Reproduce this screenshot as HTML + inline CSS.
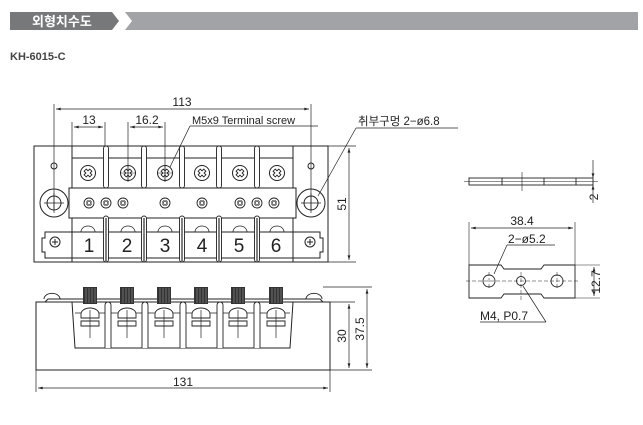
<!DOCTYPE html>
<html><head><meta charset="utf-8"><style>
html,body{margin:0;padding:0;background:#fff;}
svg{display:block;}
text{font-family:"Liberation Sans","Noto Sans CJK KR",sans-serif;fill:#222;}
</style></head><body>
<svg width="643" height="425" viewBox="0 0 643 425" xmlns="http://www.w3.org/2000/svg">
<defs>
<marker id="a" viewBox="0 0 10 6" refX="10" refY="3" markerWidth="8" markerHeight="4" orient="auto-start-reverse"><path d="M0,0 L10,3 L0,6 z" fill="#222"/></marker>
<g id="bigScrew"><circle r="7.5" fill="#fff" stroke="#222" stroke-width="1"/><path d="M-4,-1.5 h2.5 v-2.5 h3 v2.5 h2.5 v3 h-2.5 v2.5 h-3 v-2.5 h-2.5z" fill="none" stroke="#222" stroke-width="0.9" transform="rotate(45)"/></g>
<g id="smScrew"><circle r="5" fill="#fff" stroke="#222" stroke-width="0.9"/><path d="M-2.5,-1 h1.5 v-1.5 h2 v1.5 h1.5 v2 h-1.5 v1.5 h-2 v-1.5 h-1.5z" fill="none" stroke="#222" stroke-width="0.8" transform="rotate(45)"/></g>
<g id="sep"><rect x="-2.5" y="146" width="5" height="42" rx="2.5" fill="#fff" stroke="#222" stroke-width="0.9"/><rect x="-2.5" y="216" width="5" height="46" rx="2.5" fill="#fff" stroke="#222" stroke-width="0.9"/><line x1="0" y1="218" x2="0" y2="262" stroke="#555" stroke-width="1.5"/></g>
<g id="pillar"><rect x="-7" y="287" width="14" height="17" fill="#333"/><path d="M-4,288v15M-1,288v15M2,288v15M5,288v15" stroke="#888" stroke-width="0.7"/><path d="M-9,314 a9,6 0 0 1 18,0 v4 h-18z M-9,321 h18 v5 h-18z" fill="#fff" stroke="#222" stroke-width="0.9"/><path d="M0,310 v28" stroke="#222" stroke-width="0.7"/></g>
<g id="slot"><path d="M-3,348 V305 a3,3 0 0 1 6,0 V348" fill="#fff" stroke="#222" stroke-width="0.9"/></g>
</defs>

<!-- header -->
<polygon points="10,12 112,12 119,21 112,30 10,30" fill="#77787a"/>
<polygon points="125,12 638,12 638,30 125,30 132,21" fill="#a2a3a6"/>
<text x="32" y="26" font-size="13" font-weight="bold" style="fill:#fff">외형치수도</text>
<text x="10" y="60" font-size="11" font-weight="bold" style="fill:#444">KH-6015-C</text>

<g fill="none" stroke="#222" stroke-width="1">
<rect x="34" y="146" width="294" height="116"/>
<line x1="72" y1="158" x2="293" y2="158"/>
<line x1="72" y1="146" x2="72" y2="262"/><line x1="293" y1="146" x2="293" y2="262"/>
<rect x="69" y="188" width="227" height="30" fill="#fff"/>
<line x1="72" y1="232" x2="293" y2="232"/><line x1="72" y1="258" x2="293" y2="258"/>
<path d="M72,232 H45 v6 h-3 v14 h3 v6 H72"/><path d="M293,232 H320 v6 h3 v14 h-3 v6 H293"/>
<circle cx="54" cy="203" r="14" fill="#fff"/><circle cx="54" cy="203" r="7"/><path d="M44,203h20M54,193v20" stroke-width="0.7"/>
<circle cx="311" cy="203" r="14" fill="#fff"/><circle cx="311" cy="203" r="7"/><path d="M301,203h20M311,193v20" stroke-width="0.7"/>
<circle cx="54" cy="166" r="3"/><circle cx="311" cy="166" r="3"/>
</g>
<use href="#sep" x="106"/><use href="#sep" x="144"/><use href="#sep" x="182"/><use href="#sep" x="219"/><use href="#sep" x="257"/>
<g>
<use href="#bigScrew" x="88" y="173"/><use href="#bigScrew" x="128" y="173"/><use href="#bigScrew" x="165" y="173"/><use href="#bigScrew" x="202" y="173"/><use href="#bigScrew" x="240" y="173"/><use href="#bigScrew" x="277" y="173"/>
<use href="#smScrew" x="89" y="203"/><use href="#smScrew" x="106" y="203"/><use href="#smScrew" x="123" y="203"/><use href="#smScrew" x="165" y="203"/><use href="#smScrew" x="202" y="203"/><use href="#smScrew" x="240" y="203"/><use href="#smScrew" x="257" y="203"/><use href="#smScrew" x="274" y="203"/>
<circle cx="55" cy="242" r="5" fill="#fff" stroke="#222"/><path d="M52,242h6M55,239v6" stroke="#222"/>
<circle cx="310" cy="242" r="5" fill="#fff" stroke="#222"/><path d="M307,242h6M310,239v6" stroke="#222"/>
</g>
<g fill="none" stroke="#222" stroke-width="0.8">
<path d="M81,232 a7,6 0 0 1 14,0 M121,232 a7,6 0 0 1 14,0 M158,232 a7,6 0 0 1 14,0 M195,232 a7,6 0 0 1 14,0 M233,232 a7,6 0 0 1 14,0 M270,232 a7,6 0 0 1 14,0"/>
<path d="M128,165v16M120,173h16M165,165v16M157,173h16" stroke-width="0.6"/>
</g>
<g font-size="19" text-anchor="middle"><text x="89" y="252">1</text><text x="127" y="252">2</text><text x="165" y="252">3</text><text x="202" y="252">4</text><text x="239" y="252">5</text><text x="276" y="252">6</text></g>

<g stroke="#222" stroke-width="0.7" fill="none">
<line x1="54" y1="104" x2="54" y2="210"/><line x1="311" y1="104" x2="311" y2="210"/>
<line x1="56" y1="109" x2="309" y2="109" marker-start="url(#a)" marker-end="url(#a)"/>
<line x1="72" y1="122" x2="72" y2="158"/><line x1="105" y1="122" x2="105" y2="146"/>
<line x1="74" y1="127" x2="103" y2="127" marker-start="url(#a)" marker-end="url(#a)"/>
<line x1="128" y1="122" x2="128" y2="182"/><line x1="165" y1="122" x2="165" y2="182"/>
<line x1="130" y1="127" x2="163" y2="127" marker-start="url(#a)" marker-end="url(#a)"/>
<line x1="190" y1="126" x2="318" y2="126"/><line x1="190" y1="126" x2="170" y2="167"/>
<line x1="356" y1="128" x2="458" y2="128"/><line x1="356" y1="128" x2="318" y2="196"/>
<line x1="328" y1="146" x2="356" y2="146"/><line x1="328" y1="262" x2="356" y2="262"/>
<line x1="349" y1="148" x2="349" y2="260" marker-start="url(#a)" marker-end="url(#a)"/>
</g>
<g font-size="12"><text x="182" y="106" text-anchor="middle">113</text><text x="89" y="124" text-anchor="middle">13</text><text x="147" y="124" text-anchor="middle">16.2</text>
<text x="192" y="124" font-size="11">M5x9 Terminal screw</text>
<text x="358" y="125" font-size="11.5">취부구멍 2−ø6.8</text>
<text transform="translate(346,204) rotate(-90)" text-anchor="middle">51</text></g>

<g fill="none" stroke="#222" stroke-width="1">
<rect x="36" y="302" width="294" height="68"/>
<path d="M45,302 l3,-3 H320 l3,3"/>
<path d="M44,299 a7,5 0 0 1 16,0 M306,299 a7,5 0 0 1 16,0" stroke-width="0.9"/>
<path d="M72,302 l3,46 H290 l3,-46"/>
<line x1="75" y1="313" x2="290" y2="313" stroke-width="0.7"/>
</g>
<use href="#pillar" x="90"/><use href="#pillar" x="127"/><use href="#pillar" x="164"/><use href="#pillar" x="201"/><use href="#pillar" x="238"/><use href="#pillar" x="276"/>
<use href="#slot" x="108"/><use href="#slot" x="145"/><use href="#slot" x="183"/><use href="#slot" x="220"/><use href="#slot" x="257"/>
<g stroke="#222" stroke-width="0.7" fill="none">
<line x1="330" y1="302" x2="355" y2="302"/><line x1="323" y1="287" x2="372" y2="287"/><line x1="330" y1="370" x2="372" y2="370"/>
<line x1="349" y1="304" x2="349" y2="368" marker-start="url(#a)" marker-end="url(#a)"/>
<line x1="367" y1="289" x2="367" y2="368" marker-start="url(#a)" marker-end="url(#a)"/>
<line x1="36" y1="370" x2="36" y2="392"/><line x1="330" y1="370" x2="330" y2="392"/>
<line x1="38" y1="388" x2="328" y2="388" marker-start="url(#a)" marker-end="url(#a)"/>
</g>
<g font-size="12"><text x="183" y="386" text-anchor="middle">131</text>
<text transform="translate(346,336) rotate(-90)" text-anchor="middle">30</text>
<text transform="translate(364,329) rotate(-90)" text-anchor="middle">37.5</text></g>

<g fill="none" stroke="#222" stroke-width="0.9">
<rect x="469" y="178" width="124" height="7"/>
<path d="M502,178v7M544,178v7M576,178v7"/>
<path d="M522,172v19M464,181.5h134" stroke-width="0.6"/>
<path d="M593,160v18" stroke-width="0.7" marker-end="url(#a)"/><path d="M593,203v-18" stroke-width="0.7" marker-end="url(#a)"/>
</g>
<text transform="translate(598,197) rotate(-90)" font-size="12" text-anchor="middle">2</text>
<g fill="none" stroke="#222" stroke-width="0.9">
<path d="M469,265 H501 l3,4 H541 l3,-4 H575 V298 H544 l-3,-4 H504 l-3,4 H469z"/>
<circle cx="489" cy="281" r="6"/><circle cx="557" cy="281" r="6"/><circle cx="521" cy="281" r="4.5"/>
<path d="M466,281h112M489,272v18M557,272v18M521,272v30" stroke-width="0.5" stroke-dasharray="4,2"/>
<path d="M469,222v43M575,222v43" stroke-width="0.6"/>
<line x1="471" y1="228" x2="573" y2="228" stroke-width="0.7" marker-start="url(#a)" marker-end="url(#a)"/>
<path d="M507,245H555M507,245L494,274" stroke-width="0.7"/>
<path d="M480,322H546M546,322L523,286" stroke-width="0.7"/>
<path d="M575,265h25M575,298h25" stroke-width="0.6"/>
<line x1="594" y1="267" x2="594" y2="296" stroke-width="0.7" marker-start="url(#a)" marker-end="url(#a)"/>
</g>
<g font-size="12"><text x="522" y="225" text-anchor="middle">38.4</text><text x="508" y="243">2−ø5.2</text><text x="480" y="320">M4, P0.7</text>
<text transform="translate(600,282) rotate(-90)" text-anchor="middle">12.7</text></g>
</svg>
</body></html>
